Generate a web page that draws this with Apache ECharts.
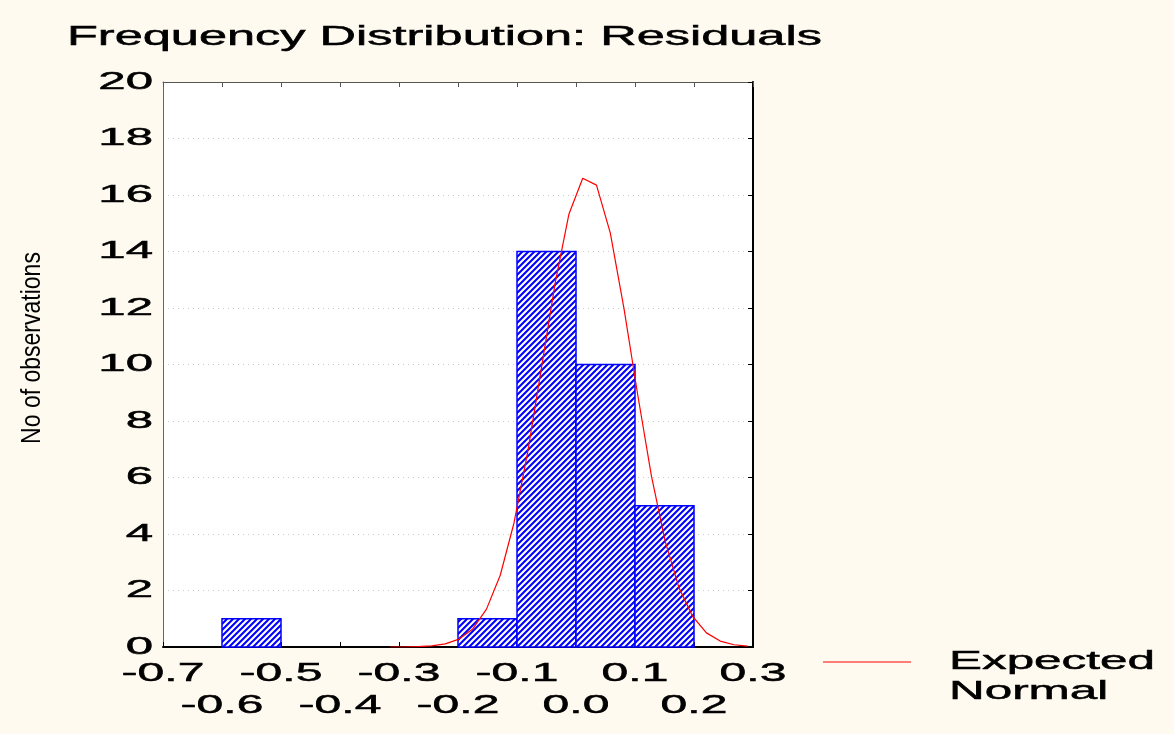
<!DOCTYPE html>
<html>
<head>
<meta charset="utf-8">
<title>Frequency Distribution: Residuals</title>
<script src="https://cdn.jsdelivr.net/npm/echarts@6/dist/echarts.min.js"></script>
<style>
  html, body { margin: 0; padding: 0; background: #fffaf0; }
  #chart { width: 1174px; height: 734px; }
</style>
</head>
<body>
<div id="chart"></div>
<script>
// Histogram bins of the residuals: [start, end) and observation counts
const binStart = [-0.6, -0.2, -0.1, 0.0, 0.1];
const binEnd   = [-0.5, -0.1, 0.0, 0.1, 0.2];
const counts   = [1, 1, 14, 10, 5];

// Expected normal curve (vertices of the polyline)
const normalX = [-0.3148, -0.2915, -0.2682, -0.2449, -0.2216, -0.1983, -0.1750, -0.1517,
                 -0.1284, -0.1051, -0.0818, -0.0585, -0.0352, -0.0119, 0.0114, 0.0347,
                 0.0580, 0.0813, 0.1046, 0.1279, 0.1512, 0.1745, 0.1978, 0.2211,
                 0.2444, 0.2677, 0.2910];
const normalY = [0.00, 0.00, 0.01, 0.04, 0.11, 0.28, 0.64, 1.34,
                 2.54, 4.39, 6.91, 9.89, 12.90, 15.33, 16.59, 16.35,
                 14.67, 11.99, 8.93, 6.05, 3.74, 2.10, 1.08, 0.50,
                 0.21, 0.08, 0.03];

// Axis ticks and their labels
const xTicks = [-0.7, -0.6, -0.5, -0.4, -0.3, -0.2, -0.1, 0.0, 0.1, 0.2, 0.3];
const xTickLabels = ['-0.7', '-0.6', '-0.5', '-0.4', '-0.3', '-0.2', '-0.1', '0.0', '0.1', '0.2', '0.3'];
const yTicks = [0, 2, 4, 6, 8, 10, 12, 14, 16, 18, 20];
const yTickLabels = ['0', '2', '4', '6', '8', '10', '12', '14', '16', '18', '20'];

const titleText = 'Frequency Distribution: Residuals';
const yAxisTitle = 'No of observations';
const legendLines = ['Expected', 'Normal'];

const FONT = '"Liberation Sans", Arial, Helvetica, sans-serif';
const BLUE = '#0000ff';
const RED = '#ff0000';

// Diagonal hatch tile for the bars
function hatchTile() {
  const s = 6;
  const c = document.createElement('canvas');
  c.width = s; c.height = s;
  const ctx = c.getContext('2d');
  ctx.fillStyle = '#ffffff';
  ctx.fillRect(0, 0, s, s);
  ctx.strokeStyle = BLUE;
  ctx.lineWidth = 2.1;
  ctx.beginPath();
  ctx.moveTo(-1, s + 1); ctx.lineTo(s + 1, -1);
  ctx.moveTo(-1, 1); ctx.lineTo(1, -1);
  ctx.moveTo(s - 1, s + 1); ctx.lineTo(s + 1, s - 1);
  ctx.stroke();
  return c;
}
const hatch = { image: hatchTile(), repeat: 'repeat' };

const chart = echarts.init(document.getElementById('chart'), null, { renderer: 'canvas' });

const option = {
  animation: false,
  backgroundColor: '#fffaf0',
  grid: {
    left: 163, right: 421, top: 82, bottom: 87,
    show: true, backgroundColor: '#ffffff', borderWidth: 0
  },
  xAxis: [
    {
      type: 'value', min: -0.7, max: 0.3, interval: 0.1, position: 'bottom',
      axisLine: { onZero: false, lineStyle: { color: '#000000', width: 2 } },
      axisTick: { inside: true, length: 5, lineStyle: { color: '#000000', width: 1 } },
      axisLabel: { show: false },
      splitLine: { show: false }
    },
    {
      type: 'value', min: -0.7, max: 0.3, interval: 0.1, position: 'top',
      axisLine: { onZero: false, lineStyle: { color: '#555555', width: 1 } },
      axisTick: { inside: true, length: 5, lineStyle: { color: '#555555', width: 1 } },
      axisLabel: { show: false },
      splitLine: { show: false }
    }
  ],
  yAxis: [
    {
      type: 'value', min: 0, max: 20, interval: 2, position: 'left',
      axisLine: { show: true, onZero: false, lineStyle: { color: '#666666', width: 1 } },
      axisTick: { show: false },
      axisLabel: { show: false },
      splitLine: { show: true, lineStyle: { type: [1, 4], color: '#c8c8c8', width: 1 } }
    },
    {
      type: 'value', min: 0, max: 20, interval: 2, position: 'right',
      axisLine: { show: true, onZero: false, lineStyle: { color: '#000000', width: 2 } },
      axisTick: { show: true, inside: true, length: 5, lineStyle: { color: '#000000', width: 1 } },
      axisLabel: { show: false },
      splitLine: { show: false }
    }
  ],
  series: [
    {
      type: 'custom',
      name: 'Residuals',
      xAxisIndex: 0, yAxisIndex: 0,
      encode: { x: [0, 1], y: 2 },
      data: binStart.map((s, i) => [s, binEnd[i], counts[i]]),
      renderItem: function (params, api) {
        const p0 = api.coord([api.value(0), 0]);
        const p1 = api.coord([api.value(1), api.value(2)]);
        return {
          type: 'rect',
          shape: { x: p0[0], y: p1[1], width: p1[0] - p0[0], height: p0[1] - p1[1] },
          style: { fill: hatch, stroke: BLUE, lineWidth: 1.5 }
        };
      },
      z: 2
    },
    {
      type: 'line',
      name: 'Expected Normal',
      xAxisIndex: 0, yAxisIndex: 0,
      data: normalX.map((x, i) => [x, normalY[i]]),
      showSymbol: false,
      symbol: 'none',
      lineStyle: { color: RED, width: 1.2 },
      z: 5
    }
  ]
};

chart.setOption(option);

// Text is drawn wide (horizontally stretched), so labels are placed as graphic text
const g = [];
function wideText(text, x, y, size, sx, align) {
  return {
    type: 'text', x: x, y: y, scaleX: sx, silent: true,
    style: {
      text: text, font: size + 'px ' + FONT, fill: '#000000',
      stroke: '#000000', lineWidth: 0.5,
      align: align, verticalAlign: 'middle'
    }
  };
}

g.push(wideText(titleText, 67, 38, 27, 1.87, 'left'));

yTicks.forEach((v, i) => {
  const p = chart.convertToPixel({ gridIndex: 0 }, [-0.7, v]);
  g.push(wideText(yTickLabels[i], 153, p[1], 24, 2.05, 'right'));
});

xTicks.forEach((v, i) => {
  const p = chart.convertToPixel({ gridIndex: 0 }, [v, 0]);
  const row = i % 2 === 0 ? 674 : 706;
  g.push(wideText(xTickLabels[i], p[0], row, 26, 1.85, 'center'));
});

g.push({
  type: 'text', x: 32, y: 348, rotation: Math.PI / 2, scaleY: 1.2, silent: true,
  style: { text: yAxisTitle, font: '23px ' + FONT, fill: '#000000', align: 'center', verticalAlign: 'middle' }
});

// Legend: red sample line and two-line caption
g.push({
  type: 'line', silent: true,
  shape: { x1: 823, y1: 662, x2: 911, y2: 662 },
  style: { stroke: RED, lineWidth: 1 }
});
g.push(wideText(legendLines[0], 949, 662, 26, 1.9, 'left'));
g.push(wideText(legendLines[1], 949, 692, 26, 1.9, 'left'));

chart.setOption({ graphic: g });
</script>
</body>
</html>
